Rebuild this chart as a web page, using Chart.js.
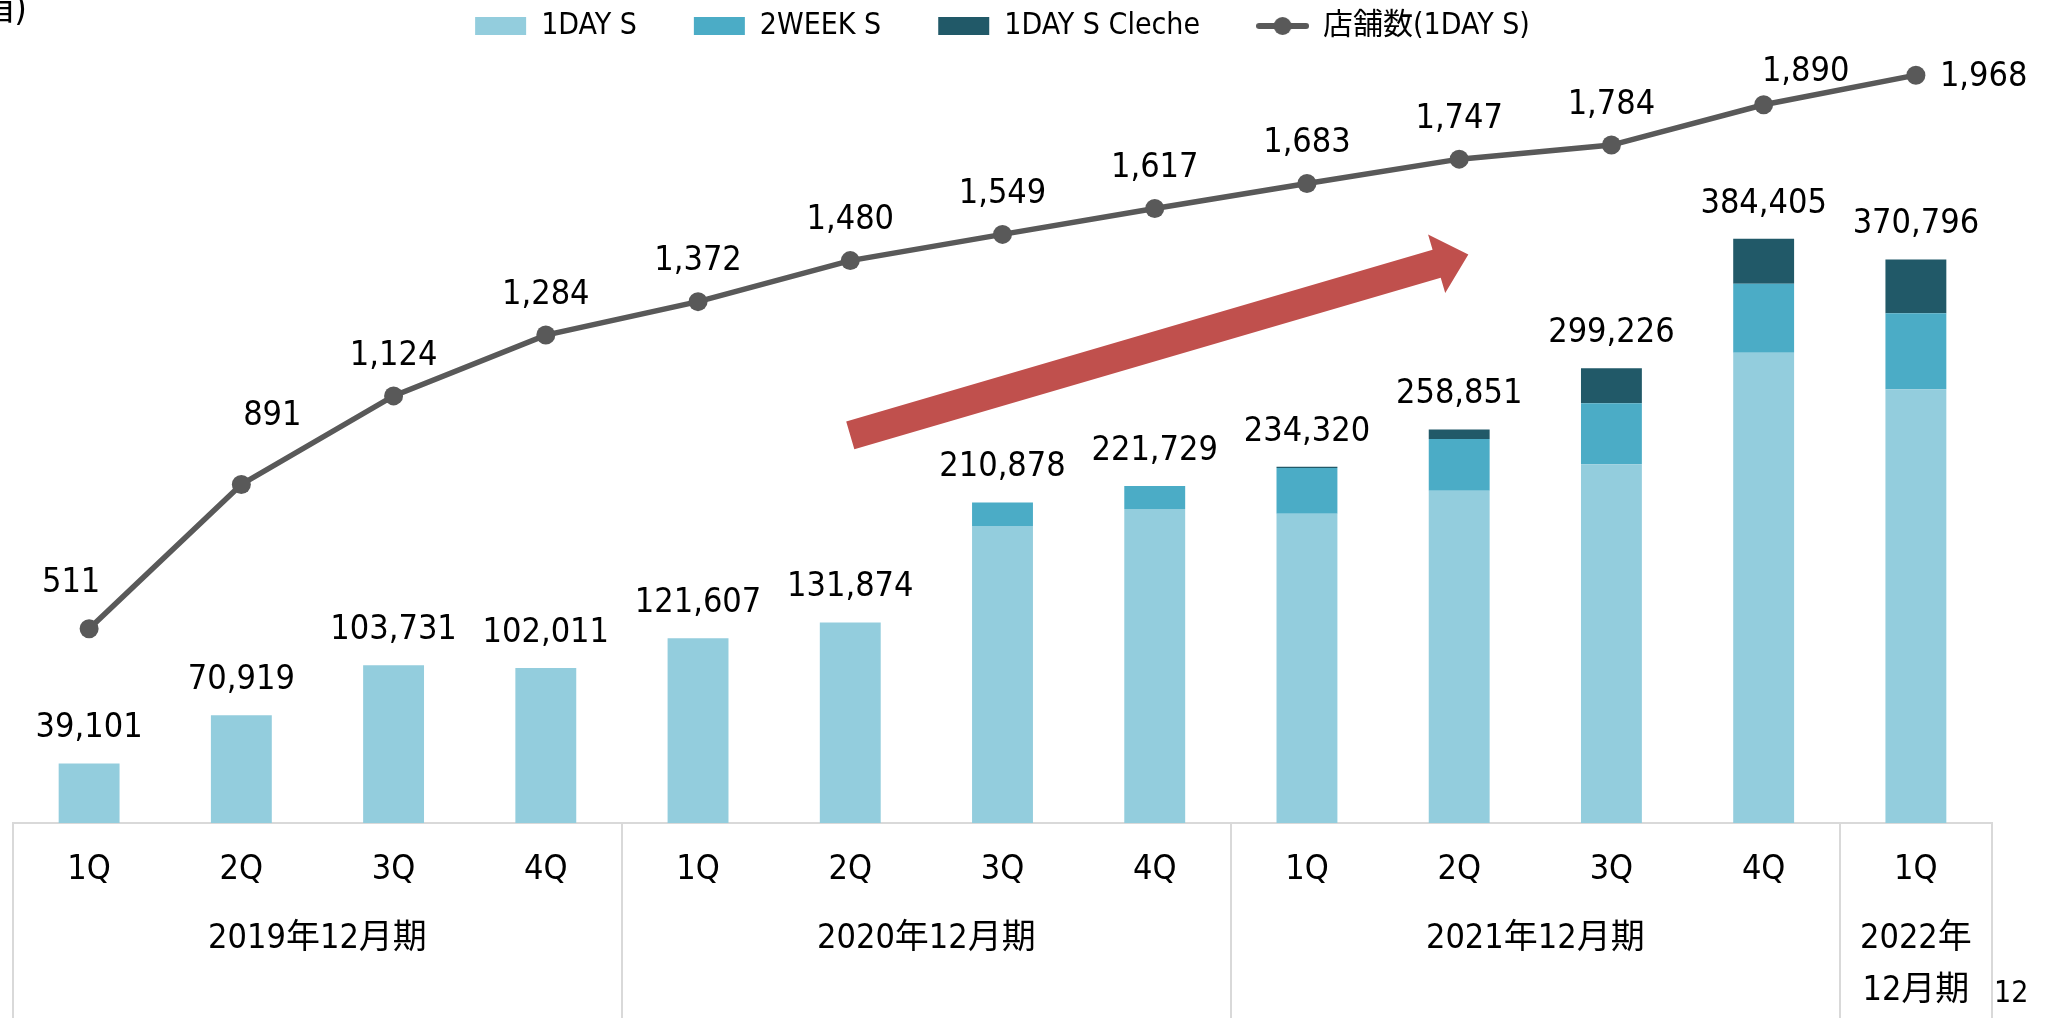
<!DOCTYPE html>
<html><head><meta charset="utf-8">
<script src="https://cdn.jsdelivr.net/npm/chart.js@4.4.1/dist/chart.umd.min.js"></script>
<style>html,body{margin:0;padding:0;background:#fff;overflow:hidden}#wrap{width:2051px;height:1018px}</style>
</head><body><div id="wrap"><canvas id="c" width="2051" height="1018"></canvas></div>
<script>
// ---- data ----
const categories = ['1Q','2Q','3Q','4Q','1Q','2Q','3Q','4Q','1Q','2Q','3Q','4Q','1Q'];
const fiscalYears = [['2019年12月期'],['2020年12月期'],['2021年12月期'],['2022年','12月期']];
const fiscalYearSpans = [[0,3],[4,7],[8,11],[12,12]];
const seriesNames = ['1DAY S','2WEEK S','1DAY S Cleche','店舗数(1DAY S)'];
const oneDayS      = [39101, 70919, 103731, 102011, 121607, 131874, 195400, 206600, 203400, 218600, 236000, 309400, 285300];
const twoWeekS     = [null, null, null, null, null, null, 15478, 15129, 30100, 34050, 40200, 45400, 50000];
const oneDaySCleche= [null, null, null, null, null, null, null, null, 820, 6201, 23026, 29605, 35496];
const barTotals    = [39101, 70919, 103731, 102011, 121607, 131874, 210878, 221729, 234320, 258851, 299226, 384405, 370796];
const storeCounts  = [511, 891, 1124, 1284, 1372, 1480, 1549, 1617, 1683, 1747, 1784, 1890, 1968];
const unitNote = '(単位：箱)';
const pageNumber = '12';

// ---- styles ----
const FONT = "'DejaVu Sans Condensed', 'DejaVu Sans', 'Noto Sans CJK JP', sans-serif";
const colors = {day:'#93CDDD', week:'#4BACC6', cleche:'#215968', line:'#595959', arrow:'#C0504D', rule:'#D9D9D9'};
const fmt = v => v.toLocaleString('en-US');

function lineKey(){
  const c = document.createElement('canvas'); c.width = 53; c.height = 20;
  const g = c.getContext('2d');
  g.strokeStyle = colors.line; g.lineWidth = 6; g.lineCap = 'round';
  g.beginPath(); g.moveTo(3,10); g.lineTo(50,10); g.stroke();
  g.fillStyle = colors.line; g.beginPath(); g.arc(26.5,10,9,0,Math.PI*2); g.fill();
  return c;
}
const lineKeyCanvas = lineKey();

const decorPlugin = {
  id: 'decor',
  afterDatasetsDraw(chart){
    const {ctx, scales:{x, xg, y, yLine}} = chart;
    ctx.save();
    // trend arrow (positioned in data space)
    const a = chart.options.plugins.decor.arrow;
    const x0 = xg.getPixelForValue(a.from[0]), y0 = y.getPixelForValue(a.from[1]);
    const x1 = xg.getPixelForValue(a.to[0]),   y1 = y.getPixelForValue(a.to[1]);
    const L = Math.hypot(x1-x0, y1-y0), ux = (x1-x0)/L, uy = (y1-y0)/L, nx = -uy, ny = ux;
    const hw = a.shaft/2, hh = a.head/2, bx = x1 - ux*a.headLen, by = y1 - uy*a.headLen;
    ctx.fillStyle = colors.arrow;
    ctx.beginPath();
    ctx.moveTo(x0+nx*hw, y0+ny*hw);
    ctx.lineTo(bx+nx*hw, by+ny*hw);
    ctx.lineTo(bx+nx*hh, by+ny*hh);
    ctx.lineTo(x1, y1);
    ctx.lineTo(bx-nx*hh, by-ny*hh);
    ctx.lineTo(bx-nx*hw, by-ny*hw);
    ctx.lineTo(x0-nx*hw, y0-ny*hw);
    ctx.closePath(); ctx.fill();

    // value labels
    ctx.font = '34px ' + FONT;
    ctx.fillStyle = '#000';
    ctx.textBaseline = 'middle';
    ctx.textAlign = 'center';
    barTotals.forEach((v,i) => {
      ctx.fillText(fmt(v), x.getPixelForValue(i), y.getPixelForValue(v) - 35);
    });
    const last = storeCounts.length - 1;
    storeCounts.forEach((v,i) => {
      const px = x.getPixelForValue(i), py = yLine.getPixelForValue(v);
      if (i === last) { ctx.textAlign = 'left'; ctx.fillText(fmt(v), px + 24, py + 2); return; }
      ctx.textAlign = 'center';
      let dx = 0, dy = -40;
      if (i === 0) { dx = -18; dy = -46; }
      if (i === 1) { dx = 31; dy = -68; }
      if (i === last - 1) { dx = 42; dy = -33; }
      ctx.fillText(fmt(v), px + dx, py + dy);
    });

    ctx.restore();
  },
  afterDraw(chart){
    const {ctx, scales:{xg}, chartArea} = chart;
    ctx.save();
    // group separators under the axis
    ctx.strokeStyle = colors.rule; ctx.lineWidth = 2;
    const bounds = fiscalYearSpans.map(s => s[0]-0.5).concat([fiscalYearSpans[fiscalYearSpans.length-1][1]+0.5]);
    bounds.forEach(b => {
      const px = Math.round(xg.getPixelForValue(b));
      ctx.beginPath(); ctx.moveTo(px, chartArea.bottom); ctx.lineTo(px, chart.height); ctx.stroke();
    });
    // unit note (partly cut at left edge) and page number
    ctx.fillStyle = '#000'; ctx.textBaseline = 'middle';
    ctx.font = '36px ' + FONT; ctx.textAlign = 'right';
    ctx.fillText(unitNote, 27, 11);
    ctx.font = '30px ' + FONT; ctx.textAlign = 'left';
    ctx.fillText(pageNumber, 1994, 994);
    ctx.restore();
  }
};

new Chart(document.getElementById('c'), {
  type: 'bar',
  data: {
    labels: categories,
    datasets: [
      {label: seriesNames[0], data: oneDayS, backgroundColor: colors.day, yAxisID:'y', stack:'s', order:1, barPercentage:0.4, categoryPercentage:1, borderWidth:0},
      {label: seriesNames[1], data: twoWeekS, backgroundColor: colors.week, yAxisID:'y', stack:'s', order:1, barPercentage:0.4, categoryPercentage:1, borderWidth:0},
      {label: seriesNames[2], data: oneDaySCleche, backgroundColor: colors.cleche, yAxisID:'y', stack:'s', order:1, barPercentage:0.4, categoryPercentage:1, borderWidth:0},
      {type:'line', label: seriesNames[3], data: storeCounts, yAxisID:'yLine', order:0,
       borderColor: colors.line, backgroundColor: colors.line, borderWidth: 5.5, tension: 0,
       pointRadius: 9.5, pointBackgroundColor: colors.line, pointBorderColor: colors.line, pointBorderWidth: 0}
    ]
  },
  options: {
    responsive: false,
    animation: false,
    devicePixelRatio: 1,
    layout: {padding: {top: -46, left: 13, right: 59, bottom: 0}},
    plugins: {
      tooltip: {enabled: false},
      legend: {
        position: 'top', align: 'center',
        labels: {
          usePointStyle: true, pointStyleWidth: 51, boxHeight: 18, padding: 57,
          color: '#000', font: {size: 30, family: FONT},
          sort: (a,b) => a.datasetIndex - b.datasetIndex,
          generateLabels(chart){
            const items = Chart.defaults.plugins.legend.labels.generateLabels(chart);
            items.forEach(it => {
              const ds = chart.data.datasets[it.datasetIndex];
              it.pointStyle = ds.type === 'line' ? lineKeyCanvas : 'rect';
              it.lineWidth = 0;
            });
            return items;
          }
        }
      },
      decor: {arrow: {from: [5.0, 255000], to: [9.06, 374000], shaft: 29, head: 61, headLen: 33}}
    },
    scales: {
      xt: {type:'category', position:'top', grid:{display:false}, border:{display:false}, ticks:{display:false},
           afterFit: s => { s.height = 12; }},
      x: {type:'category', position:'bottom', stacked:true, offset:true, weight:0,
          grid:{display:false, drawTicks:false}, border:{display:true, color: colors.rule, width:2},
          ticks:{color:'#000', font:{size:34, family: FONT}, padding: 27, maxRotation:0, autoSkip:false},
          afterFit: s => { s.height = 80; }},
      xg: {type:'linear', position:'bottom', min:-0.5, max:12.5, weight:1, offset:false, bounds:'data',
           grid:{display:false, drawTicks:false, offset:false}, border:{display:false},
           afterBuildTicks: s => { s.ticks = fiscalYearSpans.map(sp => ({value: (sp[0]+sp[1])/2})); },
           ticks:{color:'#000', font:{size:34, family: FONT, lineHeight: 1.53}, padding: 10, maxRotation:0, autoSkip:false,
                  callback: (v) => { const k = fiscalYearSpans.findIndex(sp => (sp[0]+sp[1])/2 === v); return k >= 0 ? fiscalYears[k] : ''; }},
           afterFit: s => { s.height = 115; }},
      y: {display:false, stacked:true, min:0, max:500000},
      yLine: {display:false, position:'right', min:0, max:2000, stacked:false, grid:{display:false}}
    }
  },
  plugins: [decorPlugin]
});
</script>
</body></html>
